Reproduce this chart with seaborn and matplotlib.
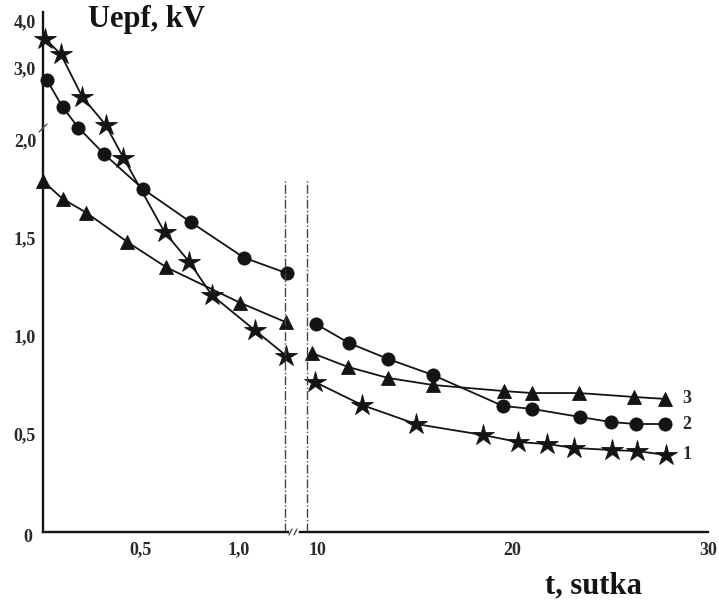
import numpy as np
import pandas as pd
import matplotlib
matplotlib.use("Agg")
import matplotlib.pyplot as plt
from matplotlib.lines import Line2D
import seaborn as sns

# ---- data: Uepf (kV) versus time t (days), three curves -------------------
# first day (0 ... 1.25 days)
t_early_1 = [0.01, 0.09, 0.20, 0.32, 0.41, 0.62, 0.745, 0.86, 1.08, 1.24]
u_early_1 = [3.62, 3.30, 2.45, 2.06, 1.91, 1.53, 1.38, 1.21, 1.03, 0.90]
t_early_2 = [0.02, 0.10, 0.18, 0.31, 0.51, 0.755, 1.025, 1.245]
u_early_2 = [2.77, 2.25, 2.05, 1.93, 1.75, 1.58, 1.40, 1.32]
t_early_3 = [0.0, 0.10, 0.22, 0.43, 0.63, 1.005, 1.24]
u_early_3 = [1.79, 1.70, 1.63, 1.48, 1.35, 1.17, 1.07]

# later period (10 ... 28 days)
t_late_1 = [9.90, 12.30, 15.06, 18.49, 20.28, 21.76, 23.15, 25.09, 26.37, 27.85]
u_late_1 = [0.765, 0.648, 0.551, 0.495, 0.459, 0.449, 0.429, 0.418, 0.413, 0.393]
t_late_2 = [9.95, 11.64, 13.63, 15.93, 19.51, 21.0, 23.45, 25.04, 26.32, 27.80]
u_late_2 = [1.061, 0.964, 0.883, 0.801, 0.643, 0.628, 0.587, 0.561, 0.551, 0.551]
t_late_3 = [9.74, 11.59, 13.63, 15.93, 19.57, 21.0, 23.40, 26.21, 27.80]
u_late_3 = [0.913, 0.842, 0.786, 0.750, 0.719, 0.709, 0.709, 0.689, 0.679]

curve_names = ["1", "2", "3"]
curve_markers = {"1": "*", "2": "o", "3": "^"}
curve_msize = {"1": 16, "2": 9.5, "3": 10.5}

y_tick_vals = [0.25, 0.5, 0.75, 1.0, 1.25, 1.5, 1.75, 2.0, 2.1, 3.0, 4.0]
y_tick_text = ["", "0,5", "", "1,0", "", "1,5", "", "2,0", "", "3,0", "4,0"]
x1_tick_vals = [0.25, 0.5, 0.75, 1.0]
x1_tick_text = ["", "0,5", "", "1,0"]
x2_tick_vals = [10, 12.5, 15, 17.5, 20, 22.5, 25, 27.5, 30]
x2_tick_text = ["10", "", "", "", "20", "", "", "", "30"]

early = pd.DataFrame({
    "t": t_early_1 + t_early_2 + t_early_3,
    "u": u_early_1 + u_early_2 + u_early_3,
    "curve": ["1"] * len(t_early_1) + ["2"] * len(t_early_2) + ["3"] * len(t_early_3),
})
late = pd.DataFrame({
    "t": t_late_1 + t_late_2 + t_late_3,
    "u": u_late_1 + u_late_2 + u_late_3,
    "curve": ["1"] * len(t_late_1) + ["2"] * len(t_late_2) + ["3"] * len(t_late_3),
})

# ---- broken vertical scale: linear up to 2 kV, compressed above ------------
_V = np.array([-1.0, 0.0, 2.0, 2.1, 3.0, 4.0, 5.0])
_H = np.array([-196.0, 0.0, 392.0, 417.0, 464.0, 511.0, 558.0])


def y_forward(v):
    return np.interp(v, _V, _H)


def y_inverse(h):
    return np.interp(h, _H, _V)


sns.set_style("white")
plt.rcParams["font.family"] = ["Liberation Serif", "DejaVu Serif"]
ink = "#141414"
label_ink = "#2a2a2a"

W, H = 719, 603
fig = plt.figure(figsize=(W / 100, H / 100), dpi=100)
fig.patch.set_facecolor("white")

ax_h = y_forward(4.2)
ax1 = fig.add_axes([43 / W, 71 / H, 245 / W, ax_h / H])
ax2 = fig.add_axes([300 / W, 71 / H, 408 / W, ax_h / H])

for ax in (ax1, ax2):
    ax.set_yscale("function", functions=(y_forward, y_inverse))
    ax.set_ylim(0, 4.2)
    ax.set_facecolor("white")
    for s in ("top", "right"):
        ax.spines[s].set_visible(False)
    for s in ("bottom", "left"):
        ax.spines[s].set_linewidth(1.7)
        ax.spines[s].set_color(ink)
    ax.tick_params(direction="in", length=6, width=1.4, color=ink,
                   labelsize=13, labelcolor=label_ink, pad=5)
    ax.yaxis.set_minor_locator(matplotlib.ticker.NullLocator())
    ax.grid(False)

ax1.set_xlim(0, 1.25)
ax2.set_xlim(9.13, 30)
ax2.spines["left"].set_visible(False)
ax2.tick_params(axis="y", left=False, labelleft=False)

ax1.set_yticks(y_tick_vals)
ax1.set_yticklabels(y_tick_text, fontweight="bold")
ax1.set_xticks(x1_tick_vals)
ax1.set_xticklabels(x1_tick_text, fontweight="bold")
ax2.set_xticks(x2_tick_vals)
ax2.set_xticklabels(x2_tick_text, fontweight="bold")
ax1.tick_params(axis="x", pad=7)
ax2.tick_params(axis="x", pad=7)


def draw_section(ax, df):
    for name in curve_names:
        sub = df[df["curve"] == name]
        sns.lineplot(data=sub, x="t", y="u", ax=ax, color=ink, linewidth=1.3,
                     marker=curve_markers[name], markersize=curve_msize[name],
                     markeredgecolor=ink, markerfacecolor=ink, markeredgewidth=0.6,
                     estimator=None, sort=True, clip_on=False, legend=False)
    ax.set_xlabel("")
    ax.set_ylabel("")


draw_section(ax1, early)
draw_section(ax2, late)

# dash-dot boundaries of the two time windows
ax1.vlines(1.235, 0, 1.8, colors="#444444", linestyles="-.", linewidth=1.0)
ax2.vlines(9.5, 0, 1.8, colors="#444444", linestyles="-.", linewidth=1.0)

# curve numbers at the right-hand ends
for name, tt, uu in (("1", t_late_1, u_late_1), ("2", t_late_2, u_late_2),
                     ("3", t_late_3, u_late_3)):
    ax2.text(tt[-1] + 1.1, uu[-1], name, ha="center", va="center",
             fontsize=13, fontweight="bold", color=label_ink, clip_on=False)

# axis captions
fig.text(88 / W, 1 - 27 / H, "Uepf, kV", fontsize=22, fontweight="bold",
         color=ink, ha="left", va="baseline")
fig.text(545 / W, 1 - 593 / H, "t, sutka", fontsize=22, fontweight="bold",
         color=ink, ha="left", va="baseline")
fig.text(28 / W, 1 - 538 / H, "0", fontsize=13, fontweight="bold",
         color=label_ink, ha="center", va="center")


# break marks on both axes
def fig_line(x0, y0, x1, y1):
    fig.add_artist(Line2D([x0 / W, x1 / W], [1 - y0 / H, 1 - y1 / H],
                          transform=fig.transFigure, color="#555555", linewidth=1.0))


fig_line(289, 535, 292, 529)
fig_line(294, 535, 297, 529)
fig_line(39, 132, 47, 124)

fig.savefig("out.png", dpi=100, facecolor="white")
